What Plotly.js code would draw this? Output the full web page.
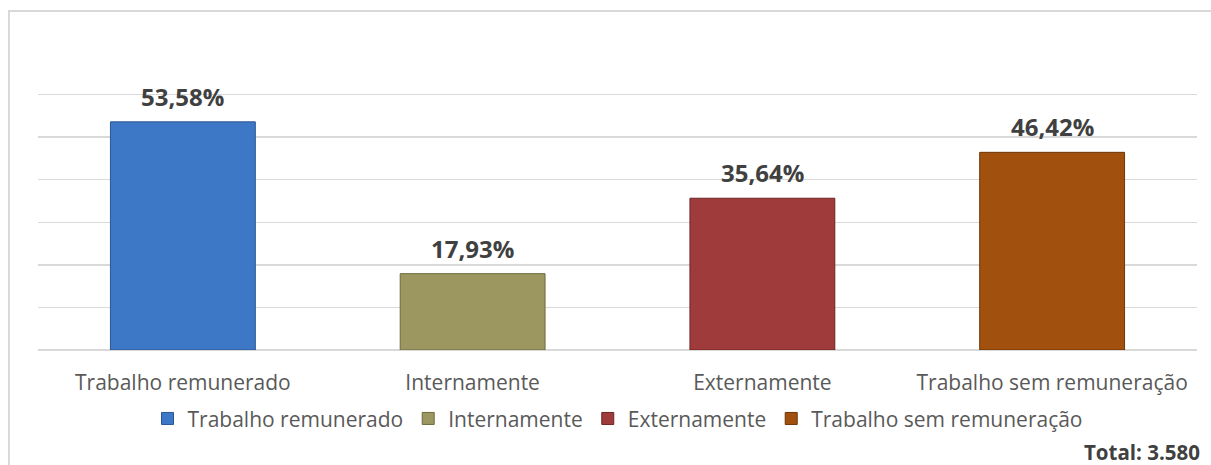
<!DOCTYPE html>
<html>
<head>
<meta charset="utf-8">
<script src="https://cdn.plot.ly/plotly-3.0.1.min.js"></script>
<style>
html,body{margin:0;padding:0;background:#fff;}
#wrap{position:relative;width:1211px;height:465px;overflow:hidden;}
#frame{position:absolute;left:8px;top:10px;width:1230px;height:480px;border:2px solid #d9d9d9;box-sizing:border-box;}
#chart{position:absolute;left:0;top:0;width:1211px;height:465px;}
</style>
</head>
<body>
<div id="wrap"><div id="frame"></div><div id="chart"></div></div>
<script>
const categories = ["Trabalho remunerado", "Internamente", "Externamente", "Trabalho sem remuneração"];
const values = [53.58, 17.93, 35.64, 46.42];
const labels = ["53,58%", "17,93%", "35,64%", "46,42%"];
const colors = ["#3d78c6", "#9c9660", "#9f3b3b", "#a2500d"];
const edgeColors = ["#2a5590", "#6e6a3e", "#6e2424", "#6e3505"];
const totalText = "Total: 3.580";

const font = "'Open Sans', Lato, sans-serif";

const traces = categories.map((c, i) => ({
  type: "bar",
  name: c,
  x: [c],
  y: [values[i]],
  marker: {color: colors[i], line: {color: edgeColors[i], width: 1}},
  hoverinfo: "skip"
}));

const annotations = categories.map((c, i) => ({
  x: c, y: values[i], xref: "x", yref: "y",
  text: "<b>" + labels[i] + "</b>",
  showarrow: false, yanchor: "bottom", yshift: 7,
  font: {family: font, size: 24, color: "#404040"}
}));
annotations.push({
  xref: "paper", yref: "paper", x: 1.004, y: -0.386, xanchor: "right", yanchor: "middle",
  text: "<b>" + totalText + "</b>", showarrow: false,
  font: {family: font, size: 20.5, color: "#404040"}
});

const layout = {
  width: 1211, height: 465,
  margin: {l: 38, r: 14, t: 86, b: 115},
  paper_bgcolor: "rgba(0,0,0,0)",
  plot_bgcolor: "rgba(0,0,0,0)",
  barmode: "overlay",
  bargap: 0.5,
  showlegend: true,
  legend: {
    orientation: "h", x: 0.5, xanchor: "center", y: -0.183, yanchor: "top",
    font: {family: font, size: 21, color: "#595959"},
    traceorder: "normal"
  },
  xaxis: {
    type: "category",
    showgrid: false, zeroline: false, showline: false, ticks: "",
    tickfont: {family: font, size: 21, color: "#595959"},
    ticklabelstandoff: 18,
    fixedrange: true
  },
  yaxis: {
    range: [0, 62], tickvals: [0, 10, 20, 30, 40, 50, 60],
    showgrid: true, gridcolor: "#d9d9d9", gridwidth: 1.5,
    zeroline: true, zerolinecolor: "#d9d9d9", zerolinewidth: 1.5,
    showticklabels: false, ticks: "",
    fixedrange: true
  },
  annotations: annotations
};

Plotly.newPlot("chart", traces, layout, {displayModeBar: false, staticPlot: true});
</script>
</body>
</html>
